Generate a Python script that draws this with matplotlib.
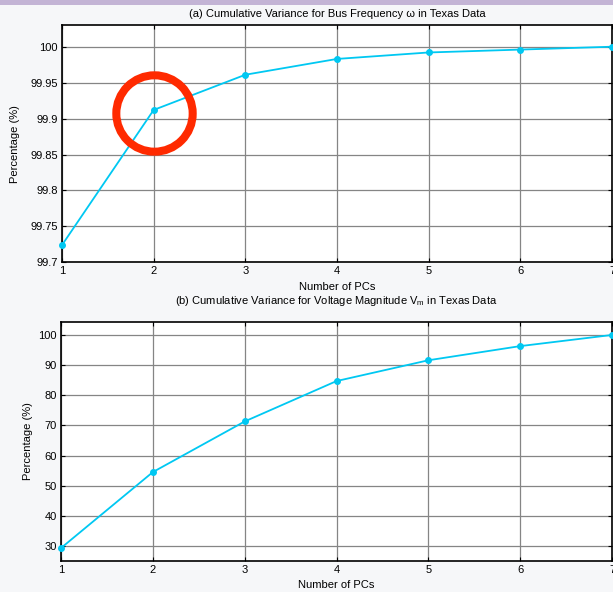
import matplotlib
matplotlib.use("Agg")
import matplotlib.pyplot as plt
from matplotlib.patches import Rectangle

plt.rcParams['font.family'] = ['Liberation Sans', 'DejaVu Sans']
plt.rcParams['mathtext.fontset'] = 'custom'
plt.rcParams['mathtext.rm'] = 'Liberation Sans'
plt.rcParams['mathtext.it'] = 'Liberation Sans'

num_pcs = [1, 2, 3, 4, 5, 6, 7]
freq_cumvar = [99.724, 99.912, 99.961, 99.983, 99.992, 99.996, 100.0]
volt_cumvar = [29.3, 54.5, 71.3, 84.7, 91.6, 96.3, 100.0]
freq_yticks = [99.7, 99.75, 99.8, 99.85, 99.9, 99.95, 100]
freq_yticklabels = ['99.7', '99.75', '99.8', '99.85', '99.9', '99.95', '100']
volt_yticks = [30, 40, 50, 60, 70, 80, 90, 100]
highlight_idx = 1

title_a = '(a) Cumulative Variance for Bus Frequency ω in Texas Data'
title_b = r'(b) Cumulative Variance for Voltage Magnitude V$_\mathregular{m}$ in Texas Data'
xlabel = 'Number of PCs'
ylabel = 'Percentage (%)'

line_color = '#00c8f2'
grid_color = '#858585'

W, H = 613, 592
fig = plt.figure(figsize=(W / 100, H / 100), dpi=100)
fig.patch.set_facecolor('#f6f7f9')
fig.add_artist(Rectangle((0, 1 - 4.5 / H), 1, 4.5 / H, transform=fig.transFigure,
                         facecolor='#c3b4d5', edgecolor='none'))

ax1 = fig.add_axes([62 / W, 1 - 262.3 / H, 550 / W, (262.3 - 25.3) / H])
ax2 = fig.add_axes([61 / W, 1 - 560.7 / H, 551 / W, (560.7 - 321.7) / H])


def style(ax):
    ax.set_facecolor('white')
    ax.grid(True, color=grid_color, linewidth=0.9)
    ax.set_axisbelow(True)
    ax.tick_params(direction='in', top=True, right=True, length=3, width=0.8,
                   labelsize=8, pad=3)
    for s in ax.spines.values():
        s.set_linewidth(1.2)
        s.set_color('black')
    ax.set_xlim(1, 7)
    ax.set_xticks(num_pcs)
    ax.set_xlabel(xlabel, fontsize=8, labelpad=4)


style(ax1)
ax1.plot(num_pcs, freq_cumvar, color=line_color, linewidth=1.3, marker='o',
         markersize=4, markeredgecolor=line_color, clip_on=False, zorder=3)
ax1.set_ylim(99.7, 100.0298)
ax1.set_yticks(freq_yticks)
ax1.set_yticklabels(freq_yticklabels)
ax1.set_title(title_a, fontsize=8, pad=6)
ax1.set_ylabel(ylabel, fontsize=8, labelpad=7)
ax1.plot([num_pcs[highlight_idx]], [freq_cumvar[highlight_idx] - 0.004], marker='o',
         markersize=55, markerfacecolor='none', markeredgecolor='#ff2a00',
         markeredgewidth=5.8, zorder=4, clip_on=False)

style(ax2)
ax2.plot(num_pcs, volt_cumvar, color=line_color, linewidth=1.3, marker='o',
         markersize=4, markeredgecolor=line_color, clip_on=False, zorder=3)
ax2.set_ylim(25.1, 104.4)
ax2.set_yticks(volt_yticks)
ax2.set_title(title_b, fontsize=8, pad=13)
ax2.set_ylabel(ylabel, fontsize=8, labelpad=4)

fig.savefig('out.png', dpi=100, facecolor=fig.get_facecolor())
